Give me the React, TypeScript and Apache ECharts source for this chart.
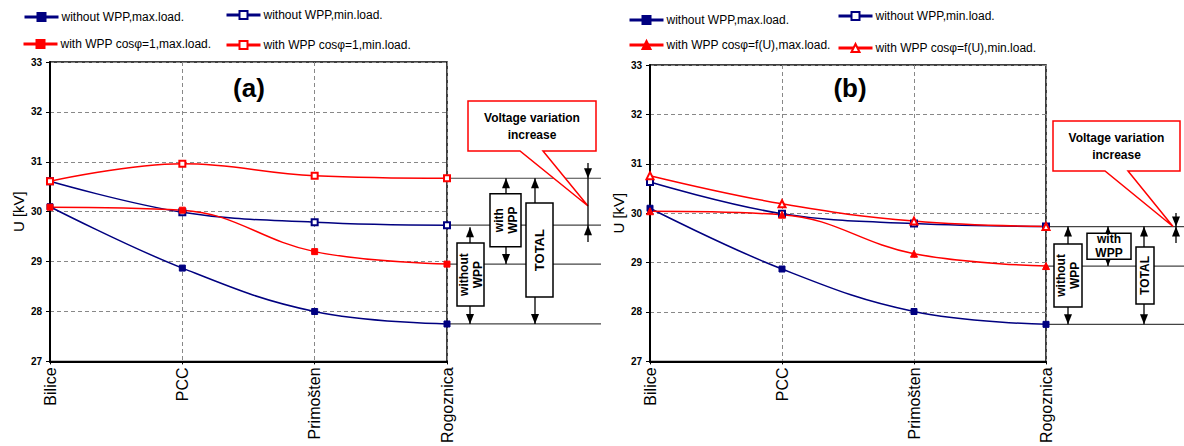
import React, { useEffect, useRef } from "react";
import * as echarts from "echarts";

const categories = ["Bilice", "PCC", "Primošten", "Rogoznica"];
const yTickMin = 27;
const yTickMax = 33;

const nameNoMax = "without WPP,max.load.";
const nameNoMin = "without WPP,min.load.";
const nameAMax = "with WPP cosφ=1,max.load.";
const nameAMin = "with WPP cosφ=1,min.load.";
const nameBMax = "with WPP cosφ=f(U),max.load.";
const nameBMin = "with WPP cosφ=f(U),min.load.";

// panel (a)
const aNoWppMax = [30.1, 28.87, 28.0, 27.75];
const aNoWppMin = [30.61, 29.99, 29.79, 29.73];
const aWppMax = [30.09, 30.03, 29.2, 28.95];
const aWppMin = [30.61, 30.96, 30.72, 30.67];
// panel (b)
const bNoWppMax = [30.1, 28.87, 28.01, 27.75];
const bNoWppMin = [30.63, 29.99, 29.79, 29.73];
const bWppMax = [30.04, 29.97, 29.18, 28.93];
const bWppMin = [30.76, 30.19, 29.84, 29.73];

const FONT = "'Liberation Sans', Arial, sans-serif";
const NAVY = "#000080";
const RED = "#ff0000";

const last = (a: number[]) => a[a.length - 1];

function mkSeries(name: string, data: number[], idx: number, color: string, symbol: string, size: number) {
  return {
    name,
    type: "line",
    xAxisIndex: idx,
    yAxisIndex: idx,
    data,
    smooth: 0.4,
    symbol,
    symbolSize: size,
    showSymbol: true,
    lineStyle: { color, width: 1.5 },
    itemStyle: { color, borderColor: color, borderWidth: 1 },
    emphasis: { disabled: true },
  };
}

function mkLegend(name: string, left: number, centerY: number) {
  return {
    data: [name],
    left,
    top: centerY - 5,
    padding: 0,
    itemWidth: 34,
    itemHeight: 10,
    itemGap: 0,
    selectedMode: false,
    lineStyle: { width: 3 },
    textStyle: { fontSize: 12, color: "#000", fontFamily: FONT, padding: [0, 0, 0, -2] },
  };
}

function axisPair(idx: number) {
  return {
    x: {
      type: "category",
      gridIndex: idx,
      data: categories,
      boundaryGap: false,
      axisLine: { show: true, lineStyle: { color: "#000", width: 2 } },
      axisTick: { show: true, length: 3, lineStyle: { color: "#000" } },
      axisLabel: { rotate: 90, fontSize: 16, color: "#000", margin: 6, fontFamily: FONT },
      splitLine: { show: true, lineStyle: { color: "#888", type: [4, 3], width: 1 } },
    },
    y: {
      type: "value",
      gridIndex: idx,
      min: yTickMin,
      max: yTickMax,
      interval: 1,
      name: "U [kV]",
      nameLocation: "middle",
      nameRotate: 90,
      nameGap: 24,
      nameTextStyle: { fontSize: 15, color: "#000", fontFamily: FONT },
      axisLine: { show: true, lineStyle: { color: "#000", width: 2 } },
      axisTick: { show: true, length: 4, lineStyle: { color: "#000" } },
      axisLabel: { fontSize: 10, fontWeight: "bold", color: "#000", margin: 8, fontFamily: FONT },
      splitLine: { show: true, lineStyle: { color: "#888", type: [4, 3], width: 1 } },
    },
  };
}

export default function App() {
  const ref = useRef<HTMLDivElement>(null);
  useEffect(() => {
    if (!ref.current) return;
    const chart = echarts.init(ref.current, null, { renderer: "svg" });
    const ax0 = axisPair(0);
    const ax1 = axisPair(1);
    const option: any = {
      animation: false,
      backgroundColor: "#fff",
      textStyle: { fontFamily: FONT },
      grid: [
        { left: 50, top: 62, width: 397, height: 300, show: true, borderColor: "#000", borderWidth: 1.5, backgroundColor: "transparent" },
        { left: 650, top: 65, width: 396, height: 297, show: true, borderColor: "#000", borderWidth: 1.5, backgroundColor: "transparent" },
      ],
      xAxis: [ax0.x, ax1.x],
      yAxis: [ax0.y, ax1.y],
      legend: [
        mkLegend(nameNoMax, 23, 16),
        mkLegend(nameNoMin, 225, 14),
        mkLegend(nameAMax, 22, 43),
        mkLegend(nameAMin, 225, 44),
        mkLegend(nameNoMax, 628, 19),
        mkLegend(nameNoMin, 837, 15),
        mkLegend(nameBMax, 628, 44),
        mkLegend(nameBMin, 837, 47),
      ],
      series: [
        mkSeries(nameNoMax, aNoWppMax, 0, NAVY, "rect", 6),
        mkSeries(nameNoMin, aNoWppMin, 0, NAVY, "emptyRect", 6),
        mkSeries(nameAMax, aWppMax, 0, RED, "rect", 6),
        mkSeries(nameAMin, aWppMin, 0, RED, "emptyRect", 6),
        mkSeries(nameNoMax, bNoWppMax, 1, NAVY, "rect", 6),
        mkSeries(nameNoMin, bNoWppMin, 1, NAVY, "emptyRect", 6),
        mkSeries(nameBMax, bWppMax, 1, RED, "triangle", 7),
        mkSeries(nameBMin, bWppMin, 1, RED, "emptyTriangle", 7),
      ],
    };
    chart.setOption(option);

    const ya = (v: number) => chart.convertToPixel({ yAxisIndex: 0 } as any, v) as unknown as number;
    const yb = (v: number) => chart.convertToPixel({ yAxisIndex: 1 } as any, v) as unknown as number;
    const xaR = chart.convertToPixel({ xAxisIndex: 0 } as any, 3) as unknown as number;
    const xbR = chart.convertToPixel({ xAxisIndex: 1 } as any, 3) as unknown as number;

    const g: any[] = [];
    const hLine = (x1: number, x2: number, y: number) =>
      g.push({ type: "line", silent: true, shape: { x1, y1: y, x2, y2: y }, style: { stroke: "#444", lineWidth: 1.2 } });
    const vLine = (x: number, y1: number, y2: number) =>
      g.push({ type: "line", silent: true, shape: { x1: x, y1, x2: x, y2 }, style: { stroke: "#000", lineWidth: 1.3 } });
    const headUp = (x: number, y: number) =>
      g.push({ type: "polygon", silent: true, shape: { points: [[x, y], [x - 4, y + 10], [x + 4, y + 10]] }, style: { fill: "#000" } });
    const headDown = (x: number, y: number) =>
      g.push({ type: "polygon", silent: true, shape: { points: [[x, y], [x - 4, y - 10], [x + 4, y - 10]] }, style: { fill: "#000" } });
    const dArrow = (x: number, yTop: number, yBot: number) => {
      vLine(x, yTop, yBot);
      headUp(x, yTop);
      headDown(x, yBot);
    };
    const box = (cx: number, cy: number, w: number, h: number, text: string, rot: number, fs = 12) => {
      g.push({ type: "rect", silent: true, shape: { x: cx - w / 2, y: cy - h / 2, width: w, height: h }, style: { fill: "#fff", stroke: "#000", lineWidth: 1.5 } });
      g.push({
        type: "text", silent: true, x: cx, y: cy, rotation: rot,
        style: { text, font: `bold ${fs}px ${FONT}`, fill: "#000", align: "center", verticalAlign: "middle", lineHeight: 14 },
      });
    };
    const callout = (x1: number, y1: number, x2: number, y2: number, pb1: number, pb2: number, tx: number, ty: number) => {
      g.push({
        type: "polygon", silent: true,
        shape: { points: [[x1, y1], [x2, y1], [x2, y2], [pb2, y2], [tx, ty], [pb1, y2], [x1, y2]] },
        style: { fill: "#fff", stroke: RED, lineWidth: 1.5 },
      });
      g.push({
        type: "text", silent: true, x: (x1 + x2) / 2, y: (y1 + y2) / 2,
        style: { text: "Voltage variation\nincrease", font: `bold 12px ${FONT}`, fill: "#000", align: "center", verticalAlign: "middle", lineHeight: 17 },
      });
    };
    const ROT = Math.PI / 2;

    // panel (a)
    const aTopW = ya(last(aWppMin));
    const aTopN = ya(last(aNoWppMin));
    const aBotW = ya(last(aWppMax));
    const aBotN = ya(last(aNoWppMax));
    [aTopW, aTopN, aBotW, aBotN].forEach((y) => hLine(xaR, xaR + 154, y));
    callout(xaR + 21, 101, xaR + 149, 151, xaR + 73, xaR + 96, xaR + 141, 206);
    dArrow(xaR + 23, aTopN + 2, aBotN);
    box(xaR + 23.5, (aTopN + aBotN) / 2, 27, 63, "without\nWPP", ROT);
    dArrow(xaR + 59, aTopW, aBotW);
    box(xaR + 58.5, (aTopW + aBotW) / 2 - 1, 31, 53, "with\nWPP", ROT);
    dArrow(xaR + 88, aTopW, aBotN);
    box(xaR + 92.5, (aTopW + aBotN) / 2 - 1, 27, 94, "TOTAL", ROT, 13);
    vLine(xaR + 141, 163, 242);
    headDown(xaR + 141, aTopW);
    headUp(xaR + 141, aTopN);

    // panel (b)
    const bTopW = yb(last(bWppMin));
    const bTopN = yb(last(bNoWppMin));
    const bBotW = yb(last(bWppMax));
    const bBotN = yb(last(bNoWppMax));
    [bTopN, bBotW, bBotN].forEach((y) => hLine(xbR, 1184, y));
    callout(xbR + 7, 121, xbR + 134, 171, xbR + 59, xbR + 82, xbR + 127, bTopW);
    dArrow(xbR + 22, bTopN, bBotN);
    box(xbR + 22, (bTopN + bBotN) / 2, 28, 63, "without\nWPP", ROT);
    dArrow(xbR + 62, bTopN, bBotW);
    box(xbR + 63, (bTopN + bBotW) / 2, 44, 26, "with\nWPP", 0);
    dArrow(xbR + 98, bTopN, bBotN);
    box(xbR + 99, (bTopN + bBotN) / 2, 18, 57, "TOTAL", ROT, 12);
    vLine(xbR + 130, 213, 243);
    headDown(xbR + 130, bTopW);
    headUp(xbR + 130, bTopN);

    // titles
    g.push({ type: "text", silent: true, x: 249, y: 88, style: { text: "(a)", font: `bold 26px ${FONT}`, fill: "#000", align: "center", verticalAlign: "middle" } });
    g.push({ type: "text", silent: true, x: 850, y: 88, style: { text: "(b)", font: `bold 26px ${FONT}`, fill: "#000", align: "center", verticalAlign: "middle" } });

    chart.setOption({ graphic: g });
    return () => chart.dispose();
  }, []);
  return <div ref={ref} style={{ position: "fixed", left: 0, top: 0, width: 1184, height: 446 }} />;
}
